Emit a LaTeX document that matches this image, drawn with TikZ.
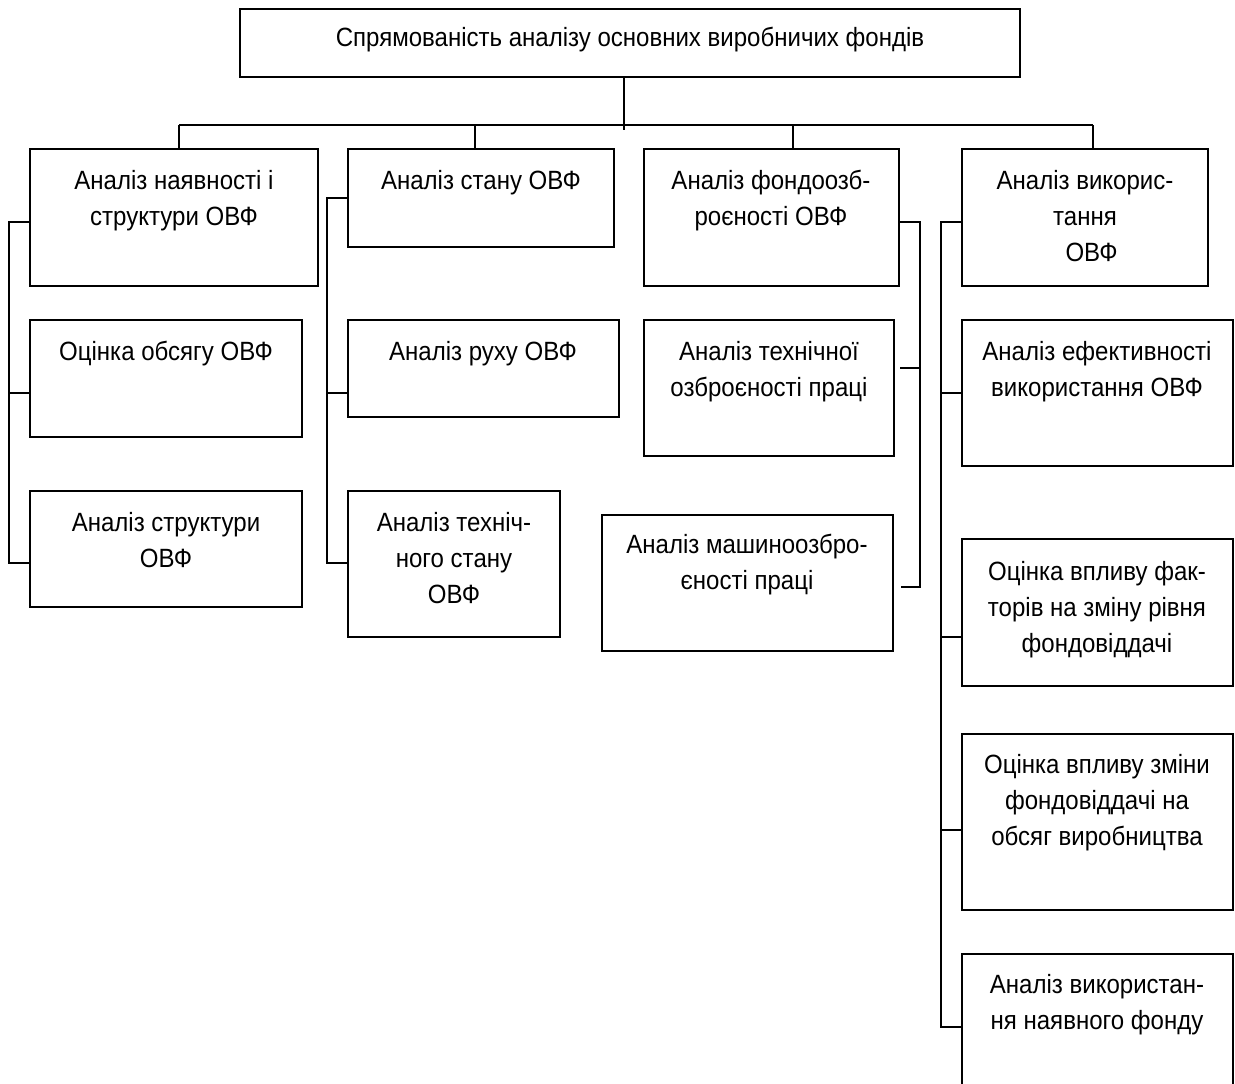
\documentclass[tikz,border=0pt]{standalone}
\usepackage{fontspec}
\setmainfont{Liberation Sans}[FakeStretch=0.91]
\usetikzlibrary{fit}
\begin{document}
\begin{tikzpicture}[x=0.5pt,y=-0.5pt,
  box/.style={draw, line width=1.1pt, inner sep=0pt, rectangle},
  txt/.style={anchor=base, align=center, inner sep=0pt, font=\fontsize{13.2pt}{18pt}\selectfont},
  wire/.style={line width=1.1pt}]
\useasboundingbox[fill=white] (0,0) rectangle (1235,1083);

% frames
\node[box, fit={(240,9) (1020,77)}] (T) {};
\node[box, fit={(30,149) (318,286)}] (A1) {};
\node[box, fit={(348,149) (614,247)}] (A2) {};
\node[box, fit={(644,149) (899,286)}] (A3) {};
\node[box, fit={(962,149) (1208,286)}] (A4) {};
\node[box, fit={(30,320) (302,437)}] (B1) {};
\node[box, fit={(30,491) (302,607)}] (B2) {};
\node[box, fit={(348,320) (619,417)}] (C1) {};
\node[box, fit={(348,491) (560,637)}] (C2) {};
\node[box, fit={(644,320) (894,456)}] (D1) {};
\node[box, fit={(602,515) (893,651)}] (D2) {};
\node[box, fit={(962,320) (1233,466)}] (E1) {};
\node[box, fit={(962,539) (1233,686)}] (E2) {};
\node[box, fit={(962,734) (1233,910)}] (E3) {};
\node[box, fit={(962,954) (1233,1110)}] (E4) {};

% captions (anchored at the baseline of their last line)
\node[txt] (Tt) at (630,46) {Спрямованість аналізу основних виробничих фондів};
\node[txt] (A1t) at (174,225) {Аналіз наявності і\\структури ОВФ};
\node[txt] (A2t) at (481,189) {Аналіз стану ОВФ};
\node[txt] (A3t) at (771,225) {Аналіз фондоозб-\\роєності ОВФ};
\node[txt] (A4t) at (1085,261) {Аналіз викорис-\\тання\\\hspace*{0.5em}ОВФ};
\node[txt] (B1t) at (166,360) {Оцінка обсягу ОВФ};
\node[txt] (B2t) at (166,567) {Аналіз структури\\ОВФ};
\node[txt] (C1t) at (483,360) {Аналіз руху ОВФ};
\node[txt] (C2t) at (454,603) {Аналіз техніч-\\ного стану\\ОВФ};
\node[txt] (D1t) at (769,396) {Аналіз технічної\\озброєності праці};
\node[txt] (D2t) at (747,589) {Аналіз машиноозбро-\\єності праці};
\node[txt] (E1t) at (1097,396) {Аналіз ефективності\\використання ОВФ};
\node[txt] (E2t) at (1097,652) {Оцінка впливу фак-\\торів на зміну рівня\\фондовіддачі};
\node[txt] (E3t) at (1097,845) {Оцінка впливу зміни\\фондовіддачі на\\обсяг виробництва};
\node[txt] (E4t) at (1097,1029) {Аналіз використан-\\ня наявного фонду};

% top-level distribution bus
\coordinate (stem) at (624,130);
\coordinate (d1) at (179,125);
\coordinate (d2) at (475,125);
\coordinate (d3) at (793,125);
\coordinate (d4) at (1093,125);
\draw[wire] (stem |- T.south) -- (stem);
\draw[wire] (d1) -- (d4);
\foreach \d/\b in {d1/A1,d2/A2,d3/A3,d4/A4}
  \draw[wire] (\d) -- (\d |- \b.north);

% first column rail
\coordinate (p1a) at (9,222);
\coordinate (p1b) at (9,393);
\coordinate (p1c) at (9,563);
\draw[wire] (A1.west |- p1a) -- (p1a) -- (p1c) -- (B2.west |- p1c);
\draw[wire] (p1b) -- (B1.west |- p1b);

% second column rail
\coordinate (p2a) at (327,198);
\coordinate (p2b) at (327,393);
\coordinate (p2c) at (327,563);
\draw[wire] (A2.west |- p2a) -- (p2a) -- (p2c) -- (C2.west |- p2c);
\draw[wire] (p2b) -- (C1.west |- p2b);

% third column rail (right side)
\coordinate (p3a) at (920,222);
\coordinate (p3b) at (920,368);
\coordinate (p3c) at (920,587);
\draw[wire, shorten >=3.5pt] (A3.east |- p3a) -- (p3a) -- (p3c) -- (D2.east |- p3c);
\draw[wire, shorten >=2.5pt] (p3b) -- (D1.east |- p3b);

% fourth column rail
\coordinate (p4a) at (941,222);
\coordinate (p4b) at (941,393);
\coordinate (p4c) at (941,637);
\coordinate (p4d) at (941,830);
\coordinate (p4e) at (941,1027);
\draw[wire] (A4.west |- p4a) -- (p4a) -- (p4e) -- (E4.west |- p4e);
\draw[wire] (p4b) -- (E1.west |- p4b);
\draw[wire] (p4c) -- (E2.west |- p4c);
\draw[wire] (p4d) -- (E3.west |- p4d);
\end{tikzpicture}
\end{document}
